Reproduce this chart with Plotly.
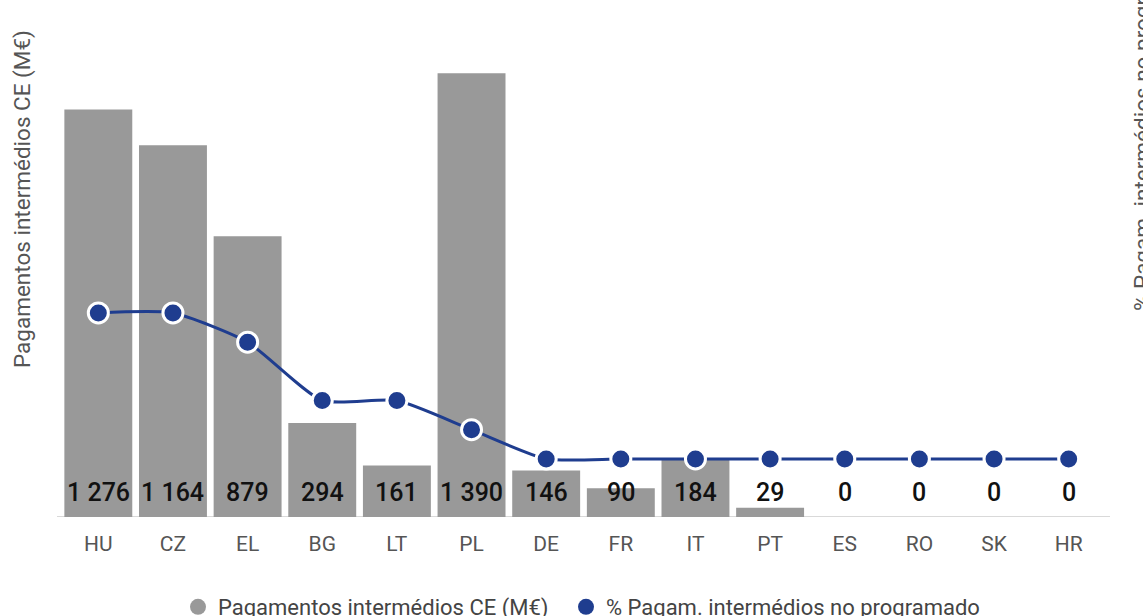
import plotly.graph_objects as go

categories = ["HU", "CZ", "EL", "BG", "LT", "PL", "DE", "FR", "IT", "PT", "ES", "RO", "SK", "HR"]
payments = [1276, 1164, 879, 294, 161, 1390, 146, 90, 184, 29, 0, 0, 0, 0]
payment_labels = ["1 276", "1 164", "879", "294", "161", "1 390", "146", "90", "184", "29", "0", "0", "0", "0"]
pct_not_programmed = [5, 5, 4, 2, 2, 1, 0, 0, 0, 0, 0, 0, 0, 0]

bar_name = "Pagamentos intermédios CE (M€)"
line_name = "% Pagam. intermédios no programado"

W, H = 1143, 616
ML, MR, MT, MB = 61, 37, 38, 99
PW, PH = W - ML - MR, H - MT - MB

def px_x(p):
    return (p - ML) / PW

def px_y(p):
    return (H - MB - p) / PH

GRAY = "#999999"
BLUE = "#1f3d8f"
FONT = "Roboto"

fig = go.Figure()
fig.add_trace(go.Bar(
    x=categories, y=payments, name=bar_name,
    marker=dict(color=GRAY, line=dict(width=0)),
    showlegend=False, yaxis="y",
))
fig.add_trace(go.Scatter(
    x=categories, y=pct_not_programmed, name=line_name, yaxis="y2",
    mode="lines+markers",
    line=dict(color=BLUE, width=3, shape="spline", smoothing=0.6),
    marker=dict(color=BLUE, size=20, line=dict(color="white", width=3)),
    showlegend=False,
))
# legend entries (circle symbols)
fig.add_trace(go.Scatter(x=[categories[0]], y=[None], mode="markers", name=bar_name,
                         legendwidth=343,
                         marker=dict(color=GRAY, size=18, symbol="circle")))
fig.add_trace(go.Scatter(x=[categories[0]], y=[None], mode="markers", name=line_name,
                         legendwidth=400,
                         marker=dict(color=BLUE, size=18, symbol="circle")))

for c, lab in zip(categories, payment_labels):
    fig.add_annotation(x=c, y=0, xref="x", yref="y", text=lab, showarrow=False,
                       yanchor="middle", yshift=25,
                       font=dict(family=FONT, size=25, color="#111111", weight=500))

fig.add_annotation(x=px_x(22), y=px_y(199), xref="paper", yref="paper",
                   text=bar_name, textangle=-90, showarrow=False,
                   xanchor="center", yanchor="middle",
                   font=dict(family=FONT, size=22.5, color="#555555"))
fig.add_annotation(x=px_x(1142), y=px_y(120), xref="paper", yref="paper",
                   text=line_name, textangle=-90, showarrow=False,
                   xanchor="center", yanchor="middle",
                   font=dict(family=FONT, size=22.5, color="#555555"))

fig.add_shape(type="line", xref="paper", yref="y",
              x0=px_x(57), x1=px_x(1110), y0=0, y1=0,
              line=dict(color="#d9d9d9", width=2), layer="below")

fig.update_layout(
    width=W, height=H,
    margin=dict(l=ML, r=MR, t=MT, b=MB, autoexpand=False),
    paper_bgcolor="white", plot_bgcolor="white",
    bargap=0.09,
    hovermode=False,
    font=dict(family=FONT, size=21, color="#555555"),
    xaxis=dict(type="category", range=[-0.5, len(categories) - 0.5],
               showgrid=False, showline=False, zeroline=False,
               ticks="", ticklabelstandoff=12, automargin=False,
               tickfont=dict(family=FONT, size=21, color="#555555")),
    yaxis=dict(range=[0, 1500], showgrid=False, showline=False, zeroline=False,
               showticklabels=False, ticks="", automargin=False),
    yaxis2=dict(range=[-1.99, 14.42], overlaying="y", side="right",
                showgrid=False, showline=False, zeroline=False,
                showticklabels=False, ticks="", automargin=False),
    legend=dict(orientation="h", x=px_x(178), xanchor="left", y=px_y(607), yanchor="middle",
                font=dict(family=FONT, size=22, color="#444444"), itemsizing="trace"),
)

fig.write_html("out.html", config={"displayModeBar": False},
               post_script="document.body.style.margin='0px';document.body.style.overflow='hidden';")
